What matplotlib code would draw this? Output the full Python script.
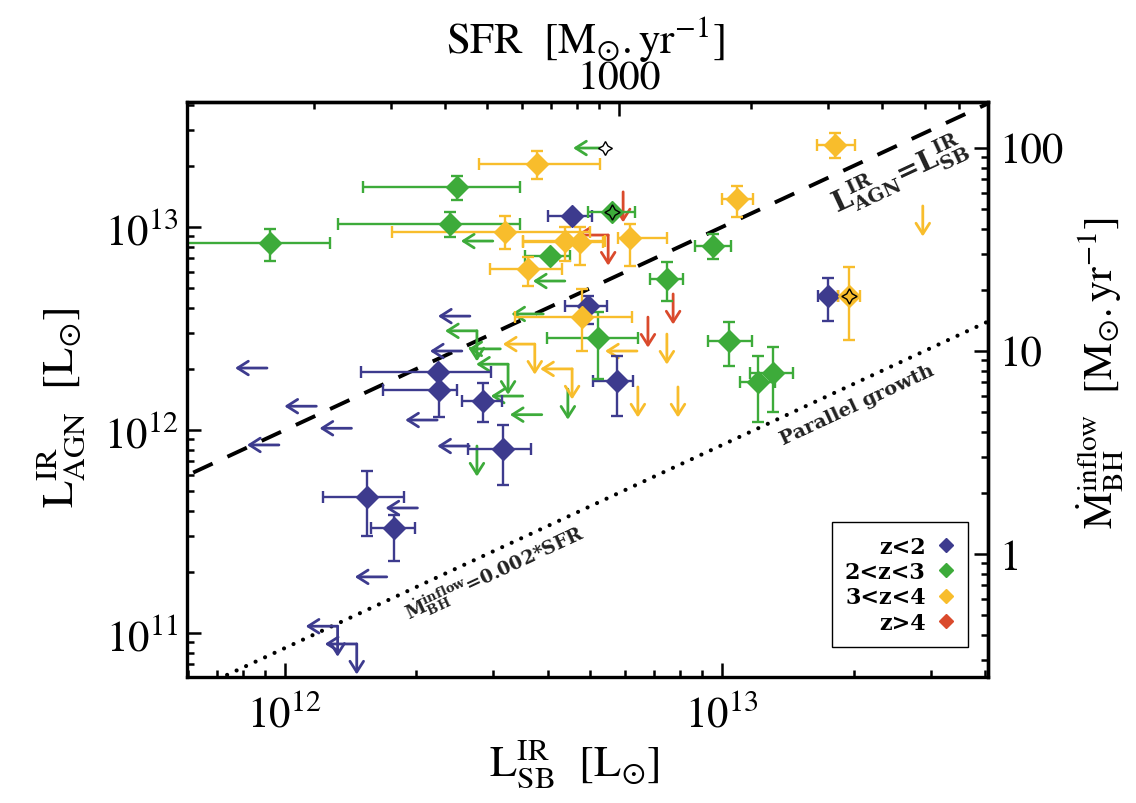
import numpy as np
import matplotlib.pyplot as plt
from matplotlib.lines import Line2D
from matplotlib.ticker import LogLocator, NullFormatter

plt.rcParams['font.family'] = 'STIXGeneral'
plt.rcParams['mathtext.fontset'] = 'stix'

E12 = 1e12
SFR_PER_L = 1.72e-10    # SFR = 1.72e-10 * L_SB
MDOT_PER_L = 4.08e-12   # Mdot_inflow = 4.08e-12 * L_AGN

blue = '#3d3b8e'
green = '#3dab3a'
yellow = '#f8bd2c'
red = '#da4a2c'

# z < 2  (units of 1e12 Lsun)
blue_x   = [1.54, 1.78, 2.24, 2.25, 2.84, 3.15, 5.75, 4.54, 4.94, 17.5]
blue_y   = [0.468, 0.329, 1.93, 1.57, 1.39, 0.806, 1.74, 11.3, 4.08, 4.57]
blue_xlo = [1.22, 1.57, 1.49, 1.68, 2.54, 2.62, 5.07, 4.00, 4.37, 16.6]
blue_xhi = [1.87, 1.98, 2.96, 2.48, 3.14, 3.66, 6.26, 5.04, 5.46, 18.4]
blue_ylo = [0.301, 0.226, 1.93, 1.16, 1.10, 0.536, 1.17, 11.3, 3.33, 3.44]
blue_yhi = [0.628, 0.381, 1.93, 1.89, 1.70, 1.06, 2.31, 11.3, 4.57, 5.61]
blue_lim_x = [0.910, 1.18, 1.42, 0.969, 1.71, 2.23, 2.64, 2.01, 2.65, 2.54, 1.32, 1.46]
blue_lim_y = [2.02, 1.31, 1.02, 0.844, 0.189, 1.12, 0.834, 0.413, 3.64, 2.45, 0.108, 0.0883]
blue_lim_dir = ['l', 'l', 'l', 'l', 'l', 'l', 'l', 'l', 'l', 'l', 'b', 'b']

# 2 < z < 3
green_x   = [0.924, 2.48, 2.39, 4.04, 5.60, 9.54, 7.48, 5.20, 10.4, 12.1, 13.1]
green_y   = [8.34, 15.7, 10.3, 7.20, 11.9, 8.06, 5.54, 2.84, 2.74, 1.72, 1.91]
green_xlo = [0.575, 1.51, 1.32, 3.54, 4.94, 8.68, 6.84, 3.98, 9.29, 11.0, 11.6]
green_xhi = [1.27, 3.45, 3.45, 4.49, 6.32, 10.5, 8.14, 6.42, 11.7, 13.2, 14.5]
green_ylo = [6.80, 13.6, 8.93, 7.20, 11.9, 6.96, 4.32, 1.78, 2.07, 1.10, 1.23]
green_yhi = [9.78, 17.8, 11.9, 7.20, 11.9, 9.24, 6.72, 3.81, 3.40, 2.31, 2.56]
green_star = [4]
green_lim_x = [5.40, 2.99, 4.37, 3.90, 2.75, 3.11, 3.24, 3.50, 3.87, 4.44, 2.75]
green_lim_y = [24.5, 8.53, 5.42, 3.73, 3.08, 2.51, 2.11, 1.47, 1.19, 1.59, 0.834]
green_lim_dir = ['l', 'l', 'l', 'l', 'b', 'l', 'b', 'l', 'l', 'd', 'd']

# 3 < z < 4
yellow_x   = [3.77, 3.19, 3.60, 4.37, 4.73, 6.16, 10.8, 18.1, 19.5, 4.78]
yellow_y   = [20.4, 9.45, 6.21, 8.53, 8.44, 8.83, 13.7, 25.3, 4.57, 3.60]
yellow_xlo = [2.78, 1.76, 2.95, 3.50, 3.50, 5.78, 10.0, 16.5, 18.4, 3.36]
yellow_xhi = [5.26, 4.99, 4.30, 5.40, 5.34, 7.48, 11.8, 20.1, 20.7, 6.22]
yellow_ylo = [17.2, 7.79, 5.12, 6.80, 6.50, 6.43, 11.2, 21.9, 2.78, 2.45]
yellow_yhi = [23.7, 11.3, 7.12, 10.0, 10.0, 10.3, 15.9, 29.0, 6.35, 4.95]
yellow_star = [8]
yellow_lim_x = [28.8, 7.48, 7.93, 6.42, 6.39, 3.73, 4.54]
yellow_lim_y = [12.7, 2.97, 1.63, 1.63, 2.45, 2.65, 2.00]
yellow_lim_dir = ['d', 'd', 'd', 'd', 'l', 'b', 'b']

# z > 4 (upper limits only)
red_lim_x = [5.94, 5.49, 7.73, 6.77]
red_lim_y = [14.9, 9.13, 4.68, 3.60]
red_lim_dir = ['d', 'b', 'd', 'd']

legend_labels = ['z<2', '2<z<3', '3<z<4', 'z>4']

fig = plt.figure(figsize=(11.36, 8.04), dpi=100)
ax = fig.add_axes([0.1646, 0.1567, 0.7051, 0.7152])
ax.set_xscale('log')
ax.set_yscale('log')
ax.set_xlim(5.97e11, 4.06e13)
ax.set_ylim(6.07e10, 4.13e13)


def draw_limits(xs, ys, dirs, color):
    for x, y, d in zip(xs, ys, dirs):
        offs = []
        if d in ('l', 'b'):
            offs.append((-23, 0))
        if d in ('d', 'b'):
            offs.append((0, -22))
        for off in offs:
            ax.annotate('', xy=(x * E12, y * E12), xytext=off, textcoords='offset points',
                        arrowprops=dict(arrowstyle='<-,head_length=0.55,head_width=0.35',
                                        color=color, lw=2.0, shrinkA=0, shrinkB=0,
                                        mutation_scale=14), zorder=2)


def draw_points(xs, ys, xlo, xhi, ylo, yhi, color, stars):
    x = np.array(xs) * E12
    y = np.array(ys) * E12
    xerr = [x - np.array(xlo) * E12, np.array(xhi) * E12 - x]
    yerr = [y - np.array(ylo) * E12, np.array(yhi) * E12 - y]
    ax.errorbar(x, y, xerr=xerr, yerr=yerr, fmt='none', ecolor=color,
                elinewidth=1.7, capsize=4.5, capthick=1.7, zorder=2.5)
    ax.plot(x, y, 'D', ms=11.5, color=color, mec=color, zorder=3)
    for i in stars:
        ax.plot(x[i], y[i], marker=(4, 1, 0), ms=11, mfc='none', mec='black',
                mew=1.0, ls='none', zorder=3.5)


draw_limits(blue_lim_x, blue_lim_y, blue_lim_dir, blue)
draw_limits(green_lim_x, green_lim_y, green_lim_dir, green)
draw_limits(yellow_lim_x, yellow_lim_y, yellow_lim_dir, yellow)
draw_limits(red_lim_x, red_lim_y, red_lim_dir, red)
# open star marking the end of the top green limit
ax.plot(green_lim_x[0] * E12, green_lim_y[0] * E12, marker=(4, 1, 0), ms=10,
        mfc='white', mec='black', mew=1.0, ls='none', zorder=3.5)

draw_points(blue_x, blue_y, blue_xlo, blue_xhi, blue_ylo, blue_yhi, blue, [])
draw_points(green_x, green_y, green_xlo, green_xhi, green_ylo, green_yhi, green, green_star)
draw_points(yellow_x, yellow_y, yellow_xlo, yellow_xhi, yellow_ylo, yellow_yhi, yellow, yellow_star)

# reference relations
line_x = np.array([3e11, 8e13])
ax.plot(line_x, line_x, color='black', lw=2.8, ls=(0, (5.5, 4.2)), zorder=1.5)
k_par = 0.002 * SFR_PER_L / MDOT_PER_L
ax.plot(line_x, k_par * line_x, color='black', lw=3.0, ls=(0, (0.01, 2.5)),
        dash_capstyle='round', zorder=1.5)

ax.text(25.5e12, 18.4e12, r'$\mathbf{L_{AGN}^{IR}\!=\!L_{SB}^{IR}}$', rotation=25,
        rotation_mode='anchor', ha='center', va='center', fontsize=20,
        math_fontfamily='dejavuserif', color='#222222')
ax.text(20.4e12, 1.34e12, 'Parallel growth', rotation=25, rotation_mode='anchor',
        ha='center', va='center', fontsize=14, family='DejaVu Serif',
        weight='bold', color='#222222')
ax.text(3.02e12, 0.200e12, r'$\dot{\mathbf{M}}_{\mathbf{BH}}^{\mathbf{inflow}}$=0.002*SFR',
        rotation=25, rotation_mode='anchor', ha='center', va='center', fontsize=13.5,
        family='DejaVu Serif', weight='bold', math_fontfamily='dejavuserif',
        color='#222222')

# axes styling
for s in ax.spines.values():
    s.set_linewidth(2.4)
ax.tick_params(which='both', direction='in', top=False, right=False, width=1.8)
ax.tick_params(which='major', length=10, labelsize=31)
ax.tick_params(which='minor', length=5)
ax.tick_params(axis='x', pad=12)
ax.tick_params(axis='y', pad=6)

sec_x = ax.secondary_xaxis('top', functions=(lambda L: L * SFR_PER_L,
                                              lambda s: s / SFR_PER_L))
sec_x.set_xticks([1000], labels=['1000'])
sec_x.xaxis.set_minor_locator(LogLocator(base=10, subs=np.arange(2, 10)))
sec_x.xaxis.set_minor_formatter(NullFormatter())
sec_x.tick_params(which='both', direction='in', width=1.8, labelsize=30, pad=3)
sec_x.tick_params(which='major', length=10)
sec_x.tick_params(which='minor', length=5)
sec_x.spines['top'].set_linewidth(2.4)

sec_y = ax.secondary_yaxis('right', functions=(lambda L: L * MDOT_PER_L,
                                                lambda m: m / MDOT_PER_L))
sec_y.set_yticks([1, 10, 100], labels=['1', '10', '100'])
sec_y.yaxis.set_minor_locator(LogLocator(base=10, subs=np.arange(2, 10)))
sec_y.yaxis.set_minor_formatter(NullFormatter())
sec_y.tick_params(which='both', direction='in', width=1.8, labelsize=31, pad=8)
sec_y.tick_params(which='major', length=10)
sec_y.tick_params(which='minor', length=5)
sec_y.spines['right'].set_linewidth(2.4)

ax.set_xlabel(r'$\mathrm{L_{SB}^{IR}\ \ [L_{\odot}]}$', fontsize=32)
ax.xaxis.set_label_coords(0.484, -0.105, transform=ax.transAxes)
ax.set_ylabel(r'$\mathrm{L_{AGN}^{IR}\ \ [L_{\odot}]}$', fontsize=32)
ax.yaxis.set_label_coords(-0.125, 0.47, transform=ax.transAxes)
sec_x.set_xlabel(r'$\mathrm{SFR\ \ [M_{\odot}.yr^{-1}]}$', fontsize=31)
sec_x.xaxis.set_label_coords(0.497, 1.087, transform=ax.transAxes)
sec_y.set_ylabel(r'$\mathrm{\dot{M}_{BH}^{inflow}\ \ [M_{\odot}.yr^{-1}]}$', fontsize=30)
sec_y.yaxis.set_label_coords(1.108, 0.53, transform=ax.transAxes)

handles = [Line2D([], [], marker='D', ls='none', color=c, ms=7)
           for c in (blue, green, yellow, red)]
leg = ax.legend(handles, legend_labels, loc='lower right', bbox_to_anchor=(0.975, 0.052),
                borderaxespad=0, markerfirst=False, frameon=True, fancybox=False,
                edgecolor='black', framealpha=1, handlelength=0.8, handletextpad=0.5,
                borderpad=0.6, labelspacing=0.15,
                prop=dict(family='DejaVu Serif', weight='bold', size=16))
leg.get_frame().set_linewidth(1.0)

fig.savefig('out.png', dpi=100)
